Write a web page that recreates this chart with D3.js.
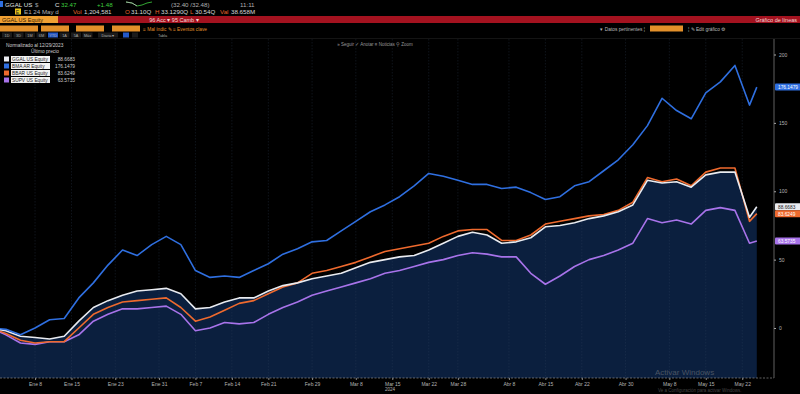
<!DOCTYPE html>
<html>
<head>
<meta charset="utf-8">
<script src="https://cdn.jsdelivr.net/npm/d3@7"></script>
<style>
	body { margin: 0; background: #000; }
	svg { display: block; font-family: 'Liberation Sans', Arial, sans-serif; }
</style>
</head>
<body>
<svg id="canvas" width="800" height="394"></svg>
<script>
// sampled weekdays, normalized % change since 12/29/2023
let dates = ['2023-12-29', '2024-01-02', '2024-01-04', '2024-01-08', '2024-01-10', '2024-01-12', '2024-01-16', '2024-01-18', '2024-01-22', '2024-01-24', '2024-01-26', '2024-01-30', '2024-02-01', '2024-02-05', '2024-02-07', '2024-02-09', '2024-02-13', '2024-02-15', '2024-02-19', '2024-02-21', '2024-02-23', '2024-02-27', '2024-02-29', '2024-03-04', '2024-03-06', '2024-03-08', '2024-03-12', '2024-03-14', '2024-03-18', '2024-03-20', '2024-03-22', '2024-03-26', '2024-03-28', '2024-04-01', '2024-04-03', '2024-04-05', '2024-04-09', '2024-04-11', '2024-04-15', '2024-04-17', '2024-04-19', '2024-04-23', '2024-04-25', '2024-04-29', '2024-05-01', '2024-05-03', '2024-05-07', '2024-05-09', '2024-05-13', '2024-05-15', '2024-05-17', '2024-05-21', '2024-05-23', '2024-05-24'];

let ggalValues = [0, -2, -6, -7, -8, -6, 5, 15, 20, 24, 27, 28, 29, 25, 14, 15, 19, 22, 22, 27, 31, 33, 36, 38, 40, 44, 48, 50, 52, 53, 57, 62, 67, 70, 68, 62, 63, 66, 74, 75, 77, 80, 82, 85, 90, 108, 106, 107, 103, 112, 114, 114, 81, 88.6683];
let bmaValues = [0, -1, -5, 0, 6, 7, 22, 33, 46, 57, 53, 61, 67, 61, 42, 37, 38, 37, 42, 47, 54, 58, 63, 64, 71, 78, 85, 90, 96, 104, 113, 111, 108, 105, 105, 102, 103, 99, 94, 96, 104, 107, 115, 123, 134, 148, 168, 159, 153, 172, 180, 192, 163, 176.1479];
let bbarValues = [0, -4, -9, -11, -10, -10, 0, 10, 15, 19, 20, 21, 22, 15, 5, 8, 13, 18, 20, 25, 30, 33, 40, 42, 45, 48, 52, 56, 58, 60, 62, 67, 71, 72, 72, 64, 64, 68, 76, 78, 80, 82, 83, 86, 92, 110, 107, 109, 104, 114, 117, 117, 78, 83.6249];
let supvValues = [0, -5, -11, -12, -10, -10, -5, 5, 10, 14, 14, 15, 16, 10, -2, 0, 4, 3, 4, 10, 15, 19, 24, 27, 30, 33, 36, 40, 42, 45, 48, 50, 53, 55, 54, 52, 52, 40, 32, 38, 45, 50, 53, 57, 62, 80, 77, 79, 76, 86, 88, 86, 62, 63.5735];

let seriesNames = ['GGAL US Equity', 'BMA AR Equity', 'BBAR US Equity', 'SUPV US Equity'];
let seriesColors = ['#e9ebf0', '#2f6fe0', '#ef6a2e', '#a873ea'];
let lastValues = ['88.6683', '176.1479', '83.6249', '63.5735'];

let tickDates = ['2024-01-08', '2024-01-15', '2024-01-23', '2024-01-31', '2024-02-07', '2024-02-14', '2024-02-21', '2024-02-29', '2024-03-08', '2024-03-15', '2024-03-22', '2024-03-28', '2024-04-08', '2024-04-15', '2024-04-22', '2024-04-30', '2024-05-08', '2024-05-15', '2024-05-22'];
let tickLabels = ['Ene 8', 'Ene 15', 'Ene 23', 'Ene 31', 'Feb 7', 'Feb 14', 'Feb 21', 'Feb 29', 'Mar 8', 'Mar 15', 'Mar 22', 'Mar 28', 'Abr 8', 'Abr 15', 'Abr 22', 'Abr 30', 'May 8', 'May 15', 'May 22'];
let yTicks = [0, 50, 100, 150, 200];

let canvas = d3.select('#canvas');
let parseDate = d3.timeParse('%Y-%m-%d');
let startDate = parseDate(dates[0]);

// bloomberg spaces every weekday evenly
let weekdayIndex = (str) => {
	let d = parseDate(str);
	return d3.timeDay.range(startDate, d).filter((day) => day.getDay() % 6 !== 0).length;
};

let plotLeft = 0;
let plotRight = 774;
let plotTop = 39;
let plotBottom = 378;

let xScale = d3.scaleLinear().domain([0, 105]).range([-8.7, 756.8]);
let yScale = d3.scaleLinear().domain([0, 200]).range([328, 54.5]);

let drawHeader = () => {
	let header = canvas.append('g').attr('font-size', 6.2);
	// row 1
	header.append('rect').attr('x', 0).attr('y', 1).attr('width', 3).attr('height', 6).attr('fill', '#2f6fe0');
	header.append('text').attr('x', 5).attr('y', 6.5).attr('fill', '#e0e0e0').text('GGAL US');
	header.append('text').attr('x', 35).attr('y', 6.5).attr('fill', '#9a9a9a').text('$');
	header.append('text').attr('x', 55).attr('y', 6.5).attr('fill', '#e0e0e0').text('C');
	header.append('text').attr('x', 61).attr('y', 6.5).attr('fill', '#3fcf3f').text('32.47');
	header.append('text').attr('x', 97).attr('y', 6.5).attr('fill', '#3fcf3f').text('+1.48');
	header.append('path').attr('d', 'M126,2 L132,3 L137,6 L142,5 L147,3 L152,2').attr('fill', 'none').attr('stroke', '#3fcf3f').attr('stroke-width', 0.8);
	header.append('path').attr('d', 'M126,2 L132,3 L137,6').attr('fill', 'none').attr('stroke', '#bbbbbb').attr('stroke-width', 0.8);
	header.append('text').attr('x', 171).attr('y', 6.5).attr('fill', '#b0b0b0').text('(32.40 /32.48)');
	header.append('text').attr('x', 240).attr('y', 6.5).attr('fill', '#b0b0b0').text('11:11');
	// row 2
	header.append('rect').attr('x', 15).attr('y', 8.5).attr('width', 6).attr('height', 6).attr('fill', '#e8c51a');
	header.append('text').attr('x', 15.8).attr('y', 13.5).attr('fill', '#222').attr('font-size', 5).text('E');
	header.append('text').attr('x', 24).attr('y', 13.8).attr('fill', '#b0b0b0').text('E1   24 May d');
	header.append('text').attr('x', 73).attr('y', 13.8).attr('fill', '#e8632a').text('Vol');
	header.append('text').attr('x', 84).attr('y', 13.8).attr('fill', '#d8d8d8').text('1,204,581');
	header.append('text').attr('x', 125).attr('y', 13.8).attr('fill', '#e8632a').text('O');
	header.append('text').attr('x', 131).attr('y', 13.8).attr('fill', '#d8d8d8').text('31.10Q');
	header.append('text').attr('x', 155).attr('y', 13.8).attr('fill', '#e8632a').text('H');
	header.append('text').attr('x', 161).attr('y', 13.8).attr('fill', '#d8d8d8').text('33.1290Q');
	header.append('text').attr('x', 190).attr('y', 13.8).attr('fill', '#e8632a').text('L');
	header.append('text').attr('x', 195).attr('y', 13.8).attr('fill', '#d8d8d8').text('30.54Q');
	header.append('text').attr('x', 220).attr('y', 13.8).attr('fill', '#e8632a').text('Val');
	header.append('text').attr('x', 231).attr('y', 13.8).attr('fill', '#d8d8d8').text('38.658M');
	// row 3: red band
	header.append('rect').attr('x', 0).attr('y', 16).attr('width', 800).attr('height', 7).attr('fill', '#a3121f');
	header.append('rect').attr('x', 0).attr('y', 16).attr('width', 58).attr('height', 7).attr('fill', '#f0a033');
	header.append('text').attr('x', 2).attr('y', 21.5).attr('fill', '#3a2000').attr('font-size', 5.5).text('GGAL US Equity');
	header.append('text').attr('x', 174).attr('y', 21.5).attr('fill', '#f5d5d5').attr('font-size', 5.5).attr('text-anchor', 'middle').text('96 Acc ▾   95 Camb ▾');
	header.append('text').attr('x', 797).attr('y', 21.5).attr('fill', '#f5d5d5').attr('font-size', 5.5).attr('text-anchor', 'end').text('Gráfico de líneas');
	// row 4: orange buttons
	let btns = [[0, 38], [41, 28], [76, 28], [112, 28]];
	btns.forEach((b) => {
		header.append('rect').attr('x', b[0]).attr('y', 25.5).attr('width', b[1]).attr('height', 6).attr('fill', '#e3902a');
	});
	header.append('text').attr('x', 143).attr('y', 30.5).attr('fill', '#e3902a').attr('font-size', 4.8).text('≡  Mal índic  ✎     ≡  Eventos clave');
	header.append('text').attr('x', 645).attr('y', 30.5).attr('fill', '#bbbbbb').attr('font-size', 4.8).attr('text-anchor', 'end').text('▾ Datos pertinentes  ¦');
	header.append('rect').attr('x', 650).attr('y', 25.5).attr('width', 33).attr('height', 6).attr('fill', '#e3902a');
	header.append('text').attr('x', 688).attr('y', 30.5).attr('fill', '#bbbbbb').attr('font-size', 4.8).text('¦  ✎ Edit gráfico   ⚙');
	// row 5: range buttons
	let ranges = ['1D', '3D', '1M', '6M', 'YTD', '1A', '5A', 'Máx', 'Diaria ▾'];
	ranges.forEach((r, i) => {
		let w = i === 8 ? 20 : 10;
		let x = i === 8 ? 98 : 2 + i * 11.5;
		header.append('rect').attr('x', x).attr('y', 32.5).attr('width', w).attr('height', 5).attr('fill', r === 'YTD' ? '#2459c8' : '#1b1b1b');
		header.append('text').attr('x', x + w / 2).attr('y', 36.6).attr('fill', '#aaaaaa').attr('font-size', 3.8).attr('text-anchor', 'middle').text(r);
	});
	header.append('rect').attr('x', 123).attr('y', 32.5).attr('width', 6).attr('height', 5).attr('fill', '#2459c8');
	header.append('rect').attr('x', 132).attr('y', 32.5).attr('width', 6).attr('height', 5).attr('fill', '#1b1b1b');
	header.append('text').attr('x', 158).attr('y', 36.6).attr('fill', '#aaaaaa').attr('font-size', 3.8).text('Tabla');
	header.append('rect').attr('x', 0).attr('y', 38).attr('width', 800).attr('height', 0.6).attr('fill', '#222');
	// chart toolbar
	header.append('text').attr('x', 375).attr('y', 46).attr('fill', '#9a9a9a').attr('font-size', 4.5).attr('text-anchor', 'middle').text('»  Seguir    ✓  Anotar    ≡  Noticias    ⚲  Zoom');
};

let drawChart = () => {
	let parsed = dates.map(weekdayIndex);
	let seriesList = [ggalValues, bmaValues, bbarValues, supvValues].map((vals) => {
		return vals.map((v, i) => ({ idx: parsed[i], value: v }));
	});

	canvas.append('clipPath').attr('id', 'plot-clip')
		.append('rect').attr('x', plotLeft).attr('y', plotTop)
		.attr('width', plotRight - plotLeft).attr('height', plotBottom - plotTop);

	let plot = canvas.append('g').attr('clip-path', 'url(#plot-clip)');

	// filled area under the main security
	let area = d3.area()
		.x((d) => xScale(d.idx))
		.y0(plotBottom)
		.y1((d) => yScale(d.value));
	plot.append('path').datum(seriesList[0]).attr('d', area).attr('fill', '#0b1f3e');

	// vertical grid at tick dates
	let tickIdx = tickDates.map(weekdayIndex);
	plot.selectAll('.vgrid')
		.data(tickIdx)
		.enter()
		.append('line')
		.attr('class', 'vgrid')
		.attr('x1', (d) => xScale(d)).attr('x2', (d) => xScale(d))
		.attr('y1', plotTop).attr('y2', plotBottom)
		.attr('stroke', '#3a4a66').attr('stroke-opacity', 0.45)
		.attr('stroke-width', 0.6).attr('stroke-dasharray', '1.5,1.5');

	let line = d3.line()
		.x((d) => xScale(d.idx))
		.y((d) => yScale(d.value));

	// draw back to front: purple, orange, white, blue
	[3, 2, 0, 1].forEach((k) => {
		plot.append('path')
			.datum(seriesList[k])
			.attr('d', line)
			.attr('fill', 'none')
			.attr('stroke', seriesColors[k])
			.attr('stroke-width', 1.6)
			.attr('stroke-linejoin', 'round');
	});

	// windows watermark (drawn inside the plot, above the axis labels)
	canvas.append('text').attr('x', 655).attr('y', 375).attr('fill', '#8a8a8a').attr('fill-opacity', 0.5)
		.attr('font-size', 8).text('Activar Windows');

	// x axis
	let xAxis = d3.axisBottom(xScale)
		.tickValues(tickIdx)
		.tickFormat((d, i) => tickLabels[i])
		.tickSize(2);
	let gx = canvas.append('g').attr('transform', `translate(0, ${plotBottom})`).call(xAxis);
	gx.select('.domain').remove();
	gx.selectAll('line').attr('stroke', '#888');
	gx.selectAll('text').attr('fill', '#b5b5b5').attr('font-size', 5).attr('dy', 0).attr('y', 7.5)
		.attr('font-family', "'Liberation Sans', Arial, sans-serif");
	canvas.append('line').attr('x1', plotLeft).attr('x2', plotRight).attr('y1', plotBottom).attr('y2', plotBottom)
		.attr('stroke', '#8a8a8a').attr('stroke-width', 0.7).attr('stroke-dasharray', '2,1.5');
	canvas.append('text').attr('x', 390).attr('y', 391).attr('fill', '#b5b5b5').attr('font-size', 4.5)
		.attr('text-anchor', 'middle').text('2024');

	canvas.append('text').attr('x', 658).attr('y', 392).attr('fill', '#8a8a8a').attr('fill-opacity', 0.5)
		.attr('font-size', 4.5).text('Ve a Configuración para activar Windows.');

	// y axis on the right
	let yAxis = d3.axisRight(yScale).tickValues(yTicks).tickSize(2).tickFormat(d3.format('d'));
	let gy = canvas.append('g').attr('transform', `translate(${plotRight}, 0)`).call(yAxis);
	gy.select('.domain').remove();
	gy.selectAll('line').attr('stroke', '#aaa');
	gy.selectAll('text').attr('fill', '#b5b5b5').attr('font-size', 5).attr('x', 5)
		.attr('font-family', "'Liberation Sans', Arial, sans-serif");
	canvas.append('line').attr('x1', plotRight).attr('x2', plotRight).attr('y1', plotTop).attr('y2', plotBottom)
		.attr('stroke', '#8a8a8a').attr('stroke-width', 0.7);

	// last value tags
	let tagY = [0, 1, 2, 3].map((k) => yScale(seriesList[k][seriesList[k].length - 1].value));
	// nudge overlapping tags apart
	if (tagY[2] - tagY[0] < 7) tagY[2] = tagY[0] + 7;
	let tagText = ['#222', '#fff', '#fff', '#fff'];
	[0, 1, 2, 3].forEach((k) => {
		canvas.append('rect').attr('x', plotRight + 1).attr('y', tagY[k] - 3.5)
			.attr('width', 800 - plotRight).attr('height', 7).attr('rx', 1)
			.attr('fill', seriesColors[k]);
		canvas.append('text').attr('x', plotRight + 4).attr('y', tagY[k] + 1.8)
			.attr('fill', tagText[k]).attr('font-size', 4.8).text(lastValues[k]);
	});

	// legend
	let legend = canvas.append('g').attr('font-size', 4.8);
	legend.append('text').attr('x', 6).attr('y', 47).attr('fill', '#cfcfcf').text('Normalizado al 12/29/2023');
	legend.append('text').attr('x', 45).attr('y', 53).attr('fill', '#cfcfcf').attr('text-anchor', 'middle').text('Último precio');
	seriesNames.forEach((name, k) => {
		let y = 56 + k * 7;
		legend.append('rect').attr('x', 4).attr('y', y + 0.5).attr('width', 5).attr('height', 5).attr('fill', seriesColors[k]);
		legend.append('rect').attr('x', 11).attr('y', y).attr('width', 39).attr('height', 6).attr('fill', '#f2f2f2');
		legend.append('text').attr('x', 12).attr('y', y + 4.6).attr('fill', '#222').text(name);
		legend.append('text').attr('x', 75).attr('y', y + 4.6).attr('fill', '#cfcfcf').attr('text-anchor', 'end').text(lastValues[k]);
	});
};

drawHeader();
drawChart();
</script>
</body>
</html>
